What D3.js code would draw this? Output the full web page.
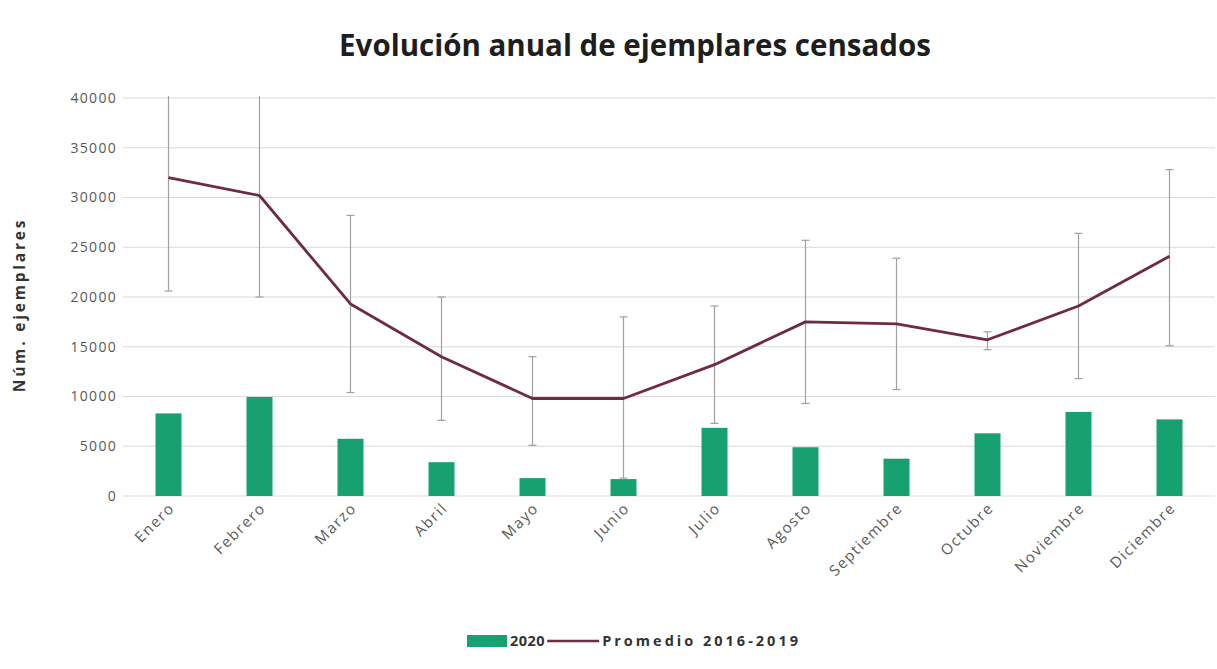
<!DOCTYPE html>
<html><head><meta charset="utf-8">
<script src="https://cdn.jsdelivr.net/npm/d3@7"></script>
<style>body{margin:0;background:#fff}svg{display:block}</style>
</head><body><svg id="chart" width="1217" height="669"></svg>
<script>
const months = ["Enero","Febrero","Marzo","Abril","Mayo","Junio","Julio","Agosto","Septiembre","Octubre","Noviembre","Diciembre"];
const values2020 = [8300,9950,5750,3400,1800,1700,6850,4900,3750,6300,8450,7700];
const promedio = [32000,30200,19300,14000,9800,9800,13200,17500,17300,15700,19100,24100];
const errHigh = [42000,42000,28200,20000,14000,18000,19100,25700,23900,16500,26400,32800];
const errLow = [20600,20000,10400,7600,5100,1800,7300,9300,10700,14700,11800,15100];
const yTicks = [0,5000,10000,15000,20000,25000,30000,35000,40000];
const titleText = "Evolución anual de ejemplares censados";
const yTitle = "Núm. ejemplares";
const legendLabels = ["2020","Promedio 2016-2019"];

const svg = d3.select("#chart");
const m = {left:123, right:1215, top:98, bottom:496};
const x = d3.scaleBand().domain(months).range([m.left, m.right]).padding(0);
const y = d3.scaleLinear().domain([0,40000]).range([m.bottom, m.top]);
const cx = d => x(d) + x.bandwidth()/2;
const barW = 26;
const font = "'Open Sans', sans-serif";
const green = "#17a070", maroon = "#6e2c3c";

// title
svg.append("text").attr("x",635).attr("y",56).attr("text-anchor","middle")
  .attr("font-family",font).attr("font-weight","bold").attr("font-size",29.5).attr("fill","#1e1e1e")
  .text(titleText);

// gridlines
svg.append("g").selectAll("line").data(yTicks).join("line")
  .attr("x1",m.left).attr("x2",m.right).attr("y1",d=>y(d)).attr("y2",d=>y(d))
  .attr("stroke","#d9d9d9").attr("stroke-width",1);

// y axis labels
const yAxis = d3.axisLeft(y).tickValues(yTicks).tickSize(0).tickPadding(6).tickFormat(d3.format("d"));
const ga = svg.append("g").attr("transform",`translate(${m.left},0)`).call(yAxis);
ga.select(".domain").remove();
ga.selectAll("text").attr("font-family",font).attr("font-size",14).attr("letter-spacing",1.3).attr("fill","#595959");

// y title
svg.append("text").attr("transform","translate(25,305) rotate(-90)").attr("text-anchor","middle")
  .attr("font-family",font).attr("font-weight","bold").attr("font-size",15.5).attr("letter-spacing",2.8).attr("fill","#333")
  .text(yTitle);

// bars
svg.append("g").selectAll("rect").data(months).join("rect")
  .attr("x",(d)=>cx(d)-barW/2).attr("width",barW)
  .attr("y",(d,i)=>y(values2020[i])).attr("height",(d,i)=>y(0)-y(values2020[i]))
  .attr("fill",green);

// x axis labels
const xAxis = d3.axisBottom(x).tickSize(0).tickPadding(0);
const gx = svg.append("g").attr("transform",`translate(0,${m.bottom})`).call(xAxis);
gx.select(".domain").remove();
gx.selectAll("text").attr("font-family",font).attr("font-size",15).attr("letter-spacing",1.5).attr("fill","#595959")
  .attr("text-anchor","end").attr("dy",null).attr("y",0)
  .attr("transform","translate(7,13) rotate(-45)");

// error bars
const clipTop = y(40200);
const eg = svg.append("g").attr("stroke","#a0a0a0").attr("stroke-width",1.2);
months.forEach((mo,i)=>{
  const X = cx(mo);
  const top = Math.max(y(errHigh[i]), clipTop);
  eg.append("line").attr("x1",X).attr("x2",X).attr("y1",top).attr("y2",y(errLow[i]));
  if (y(errHigh[i]) >= clipTop) eg.append("line").attr("x1",X-4).attr("x2",X+4).attr("y1",top).attr("y2",top);
  eg.append("line").attr("x1",X-4).attr("x2",X+4).attr("y1",y(errLow[i])).attr("y2",y(errLow[i]));
});

// line
const line = d3.line().x((d,i)=>cx(months[i])).y(d=>y(d));
svg.append("path").datum(promedio).attr("d",line).attr("fill","none")
  .attr("stroke",maroon).attr("stroke-width",2.8).attr("stroke-linejoin","round");

// legend
const lg = svg.append("g");
const ly = 641;
lg.append("rect").attr("x",467).attr("y",ly-6).attr("width",40).attr("height",12).attr("fill",green);
const t1 = lg.append("text").attr("x",510).attr("y",ly+5).attr("font-family",font).attr("font-weight","bold")
  .attr("font-size",14.5).attr("letter-spacing",0.5).attr("fill","#333").text(legendLabels[0]);
const e1 = 510 + t1.node().getComputedTextLength() + 2;
lg.append("line").attr("x1",e1).attr("x2",e1+52).attr("y1",ly).attr("y2",ly).attr("stroke",maroon).attr("stroke-width",2.5);
lg.append("text").attr("x",e1+55).attr("y",ly+5).attr("font-family",font).attr("font-weight","bold")
  .attr("font-size",14.5).attr("letter-spacing",3).attr("fill","#333").text(legendLabels[1]);
</script></body></html>
